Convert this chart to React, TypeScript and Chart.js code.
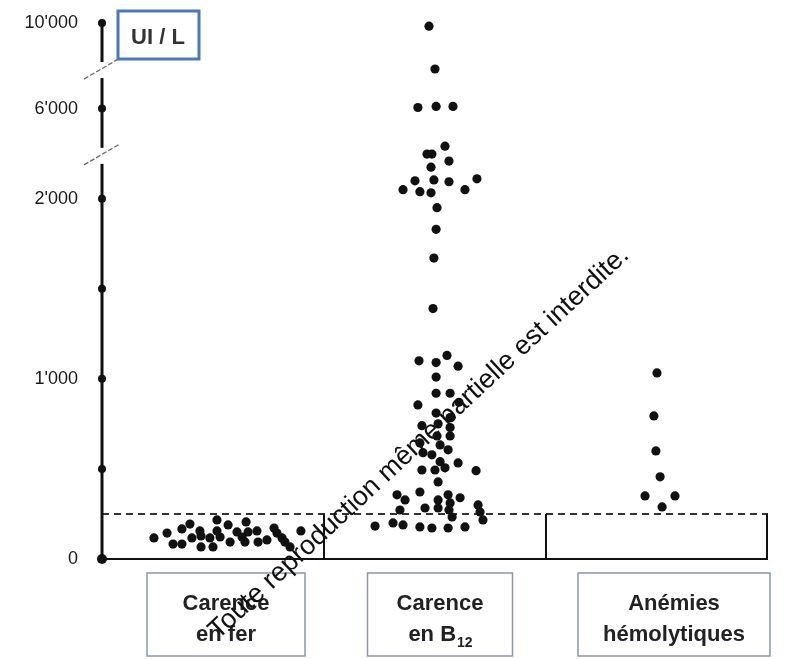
import React, { useEffect, useRef } from 'react';
import { Chart, registerables } from 'chart.js';

Chart.register(...registerables);

// ---- data ----
const categoryLines: string[][] = [
  ['Carence', 'en fer'],
  ['Carence', 'en B|12'],
  ['Anémies', 'hémolytiques'],
];
const tickValues = [0, 500, 1000, 1500, 2000, 6000, 10000];
const tickLabels = ['0', '', "1'000", '', "2'000", "6'000", "10'000"];
const unitLabel = 'UI / L';
const referenceLimit = 250;
const axisBreaks = [3900, 7800];
const watermark = 'Toute reproduction même partielle est interdite.';

const ironX = [0.234, 0.293, 0.36, 0.396, 0.441, 0.446, 0.32, 0.36, 0.405, 0.446, 0.486, 0.5, 0.518, 0.518, 0.532, 0.568, 0.577, 0.608, 0.631, 0.649, 0.644, 0.658, 0.698, 0.703, 0.743, 0.775, 0.788, 0.811, 0.824, 0.847, 0.896];
const ironVal = [117, 144, 167, 194, 156, 128, 83, 83, 117, 67, 117, 67, 217, 156, 122, 189, 94, 150, 122, 206, 94, 150, 156, 94, 106, 172, 144, 117, 94, 67, 156];

const b12X = [1.473, 1.5, 1.423, 1.505, 1.581, 1.545, 1.464, 1.486, 1.563, 1.482, 1.41, 1.495, 1.563, 1.689, 1.356, 1.432, 1.482, 1.635, 1.509, 1.505, 1.495, 1.491, 1.428, 1.505, 1.554, 1.604, 1.505, 1.505, 1.568, 1.608, 1.423, 1.505, 1.568, 1.441, 1.514, 1.568, 1.509, 1.568, 1.432, 1.523, 1.559, 1.446, 1.486, 1.523, 1.604, 1.685, 1.441, 1.5, 1.545, 1.514, 1.432, 1.559, 1.613, 1.329, 1.365, 1.514, 1.568, 1.342, 1.455, 1.514, 1.563, 1.694, 1.703, 1.577, 1.23, 1.311, 1.356, 1.432, 1.486, 1.559, 1.635, 1.716];
const b12Val = [9850, 7850, 6050, 6100, 6100, 4330, 3980, 3980, 3670, 3400, 2790, 2830, 2750, 2880, 2400, 2310, 2260, 2400, 1950, 1830, 1670, 1390, 1100, 1090, 1130, 1070, 1010, 920, 920, 870, 855, 810, 785, 740, 750, 730, 683, 683, 644, 633, 606, 590, 578, 540, 533, 490, 494, 494, 506, 428, 372, 356, 340, 356, 328, 328, 311, 272, 283, 283, 272, 300, 261, 233, 183, 200, 189, 178, 172, 172, 178, 217];

const hemoX = [2.5, 2.486, 2.495, 2.514, 2.446, 2.581, 2.523];
const hemoVal = [1033, 794, 600, 456, 350, 350, 289];

// broken axis: 0-2000 linear, then two compressed segments
function toAxis(v: number): number {
  if (v <= 2000) return v;
  if (v <= 6000) return 2000 + ((v - 2000) * 500) / 4000;
  return 2500 + ((v - 6000) * 475) / 4000;
}

const pts = (xs: number[], vs: number[]) => xs.map((x, i) => ({ x, y: toAxis(vs[i]) }));

const FONT = "'Liberation Sans', Arial, sans-serif";

const decorPlugin = {
  id: 'decor',
  beforeDraw(chart: any) {
    const { ctx, width, height } = chart;
    ctx.save();
    ctx.fillStyle = '#fff';
    ctx.fillRect(0, 0, width, height);
    ctx.restore();
  },
  beforeDatasetsDraw(chart: any) {
    const { ctx, chartArea: a, scales } = chart;
    const x = scales.x, y = scales.y;
    ctx.save();
    // reference dashed line
    const yr = y.getPixelForValue(toAxis(referenceLimit));
    ctx.strokeStyle = '#333';
    ctx.lineWidth = 2;
    ctx.setLineDash([7, 5]);
    ctx.beginPath();
    ctx.moveTo(a.left, yr);
    ctx.lineTo(a.right, yr);
    ctx.stroke();
    ctx.setLineDash([]);
    // bottom axis
    ctx.strokeStyle = '#111';
    ctx.lineWidth = 2;
    ctx.beginPath();
    ctx.moveTo(a.left, a.bottom);
    ctx.lineTo(a.right, a.bottom);
    ctx.stroke();
    // separators
    [1, 2, 3].forEach((v) => {
      const px = Math.min(x.getPixelForValue(v), a.right - 1);
      ctx.beginPath();
      ctx.moveTo(px, yr);
      ctx.lineTo(px, a.bottom);
      ctx.stroke();
    });
    ctx.restore();
  },
  afterDraw(chart: any) {
    const { ctx, chartArea: a, scales } = chart;
    const x = scales.x, y = scales.y;
    ctx.save();
    // vertical axis
    const ax = a.left;
    ctx.strokeStyle = '#111';
    ctx.lineWidth = 3;
    ctx.beginPath();
    ctx.moveTo(ax, y.getPixelForValue(toAxis(10000)));
    ctx.lineTo(ax, a.bottom);
    ctx.stroke();
    // breaks
    axisBreaks.forEach((b) => {
      const py = y.getPixelForValue(toAxis(b));
      ctx.fillStyle = '#fff';
      ctx.fillRect(ax - 3, py - 8, 6, 16);
      ctx.strokeStyle = '#666';
      ctx.lineWidth = 1.3;
      ctx.setLineDash([5, 2]);
      ctx.beginPath();
      ctx.moveTo(ax - 18, py + 9);
      ctx.lineTo(ax + 18, py - 12);
      ctx.stroke();
      ctx.setLineDash([]);
    });
    // tick dots
    ctx.fillStyle = '#111';
    tickValues.forEach((v) => {
      const py = y.getPixelForValue(toAxis(v));
      ctx.beginPath();
      ctx.arc(ax, py, v === 0 ? 5 : 4, 0, Math.PI * 2);
      ctx.fill();
    });
    // unit box
    ctx.strokeStyle = '#4a78c0';
    ctx.lineWidth = 3;
    ctx.strokeRect(118, 11, 81, 48);
    ctx.fillStyle = '#333';
    ctx.font = `bold 22px ${FONT}`;
    ctx.textAlign = 'center';
    ctx.textBaseline = 'alphabetic';
    ctx.fillText(unitLabel, 158, 44);

    // category boxes
    const boxOffsets = [13, 5, 17];
    const boxWidths = [158, 145, 192];
    categoryLines.forEach((lines, i) => {
      const cx = x.getPixelForValue(i + 0.5) + boxOffsets[i];
      const w = boxWidths[i];
      ctx.strokeStyle = '#8898ad';
      ctx.lineWidth = 1.5;
      ctx.strokeRect(cx - w / 2, a.bottom + 14, w, 83);
      ctx.fillStyle = '#222';
      lines.forEach((line, j) => {
        const by = a.bottom + 51 + j * 31;
        if (line.includes('|')) {
          const [main, sub] = line.split('|');
          ctx.font = `bold 22px ${FONT}`;
          const w1 = ctx.measureText(main).width;
          ctx.font = `bold 14px ${FONT}`;
          const w2 = ctx.measureText(sub).width;
          const sx = cx - (w1 + w2) / 2;
          ctx.textAlign = 'left';
          ctx.font = `bold 22px ${FONT}`;
          ctx.fillText(main, sx, by);
          ctx.font = `bold 14px ${FONT}`;
          ctx.fillText(sub, sx + w1 + 1, by + 6);
        } else {
          ctx.textAlign = 'center';
          ctx.font = `bold 22px ${FONT}`;
          ctx.fillText(line, cx, by);
        }
      });
    });

    // watermark
    ctx.translate(218, 640);
    ctx.rotate((-42.9 * Math.PI) / 180);
    ctx.font = `27px ${FONT}`;
    ctx.fillStyle = '#111';
    ctx.textAlign = 'left';
    ctx.fillText(watermark, 0, 0);
    ctx.restore();
  },
};

export default function App() {
  const ref = useRef<HTMLCanvasElement | null>(null);
  useEffect(() => {
    if (!ref.current) return;
    const chart = new Chart(ref.current, {
      type: 'scatter',
      data: {
        datasets: [
          { label: 'fer', data: pts(ironX, ironVal) },
          { label: 'B12', data: pts(b12X, b12Val) },
          { label: 'hémolytiques', data: pts(hemoX, hemoVal) },
        ].map((d) => ({
          ...d,
          pointRadius: 4.6,
          pointHoverRadius: 4.6,
          backgroundColor: '#111',
          borderWidth: 0,
        })),
      },
      options: {
        responsive: false,
        animation: false,
        events: [],
        clip: false as any,
        layout: { padding: { left: 0, right: 24, top: 23, bottom: 100 } },
        plugins: { legend: { display: false }, tooltip: { enabled: false } },
        scales: {
          x: { type: 'linear', min: 0, max: 3, display: false },
          y: {
            type: 'linear',
            min: 0,
            max: toAxis(10000),
            afterBuildTicks: (s: any) => {
              s.ticks = tickValues.map((v) => ({ value: toAxis(v) }));
            },
            afterFit: (s: any) => {
              s.width = 102;
            },
            ticks: {
              autoSkip: false,
              padding: 0,
              color: '#1a1a1a',
              font: { family: FONT, size: 18 },
              callback: (_v: any, i: number) => tickLabels[i],
            },
            grid: {
              display: true,
              drawOnChartArea: false,
              drawTicks: true,
              tickLength: 24,
              color: 'rgba(0,0,0,0)',
            },
            border: { display: false },
          },
        },
      },
      plugins: [decorPlugin],
    });
    return () => chart.destroy();
  }, []);
  return (
    <div style={{ position: 'fixed', left: 0, top: 0, width: 792, height: 659, background: '#fff' }}>
      <canvas ref={ref} width={792} height={659} />
    </div>
  );
}
